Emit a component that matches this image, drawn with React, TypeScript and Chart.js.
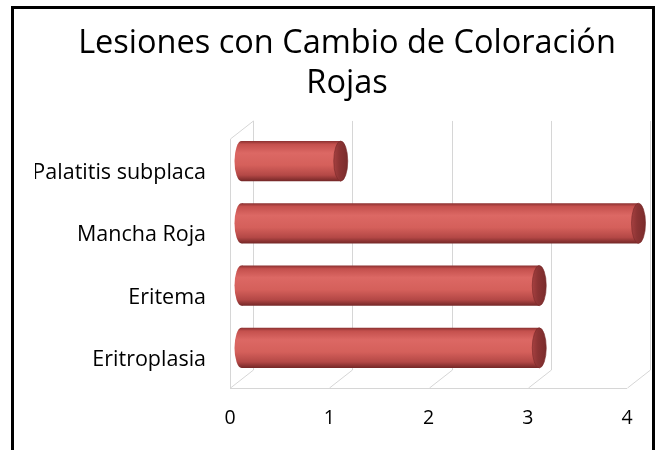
import React, { useEffect, useRef } from "react";
import { Chart, registerables } from "chart.js";

Chart.register(...registerables);

const titleLines = ["Lesiones con Cambio de Coloración", "Rojas"];
const categories = ["Palatitis subplaca", "Mancha Roja", "Eritema", "Eritroplasia"];
const values = [1, 4, 3, 3];
const xTicks = [0, 1, 2, 3, 4];

const DX = 23;
const DY = 18;
const BAR_PCT = 0.645;
const GRID = "#d6d6d6";

function barGradient(ctx: CanvasRenderingContext2D, top: number, bottom: number) {
  const g = ctx.createLinearGradient(0, top, 0, bottom);
  g.addColorStop(0, "#8a3030");
  g.addColorStop(0.08, "#c4504d");
  g.addColorStop(0.3, "#dc6864");
  g.addColorStop(0.6, "#d5605b");
  g.addColorStop(0.85, "#b44846");
  g.addColorStop(1, "#742727");
  return g;
}

function capGradient(ctx: CanvasRenderingContext2D, x: number, rx: number) {
  const g = ctx.createLinearGradient(x - rx, 0, x + rx, 0);
  g.addColorStop(0, "#a54040");
  g.addColorStop(0.4, "#8c3434");
  g.addColorStop(1, "#7a2c2c");
  return g;
}

const depthPlugin = {
  id: "depth3d",
  beforeDatasetsDraw(chart: any) {
    const { ctx, chartArea, scales } = chart;
    const xs = scales.x;
    const L = chartArea.left;
    const T = chartArea.top;
    const B = chartArea.bottom;
    ctx.save();
    ctx.strokeStyle = GRID;
    ctx.lineWidth = 1;
    ctx.beginPath();
    ctx.moveTo(L + 0.5, B);
    ctx.lineTo(L + 0.5, T);
    ctx.lineTo(L + DX + 0.5, T - DY);
    xTicks.forEach((v) => {
      const px = Math.round(xs.getPixelForValue(v)) + 0.5;
      ctx.moveTo(px + DX, T - DY);
      ctx.lineTo(px + DX, B - DY);
      ctx.moveTo(px, B);
      ctx.lineTo(px + DX, B - DY);
    });
    ctx.moveTo(L, B + 0.5);
    ctx.lineTo(xs.getPixelForValue(xTicks[xTicks.length - 1]), B + 0.5);
    ctx.stroke();
    ctx.restore();

    ctx.save();
    ctx.translate(DX / 2, -DY / 2);
    const meta = chart.getDatasetMeta(0);
    meta.data.forEach((el: any) => {
      const p = el.getProps(["x", "y", "base", "height"], true);
      const h = p.height;
      const rx = 7;
      ctx.beginPath();
      ctx.ellipse(p.base, p.y, rx, h / 2, 0, 0, Math.PI * 2);
      ctx.fillStyle = barGradient(ctx, p.y - h / 2, p.y + h / 2);
      ctx.fill();
    });
  },
  afterDatasetsDraw(chart: any) {
    const { ctx } = chart;
    const meta = chart.getDatasetMeta(0);
    meta.data.forEach((el: any) => {
      const p = el.getProps(["x", "y", "base", "height"], true);
      const h = p.height;
      const rx = 7;
      ctx.beginPath();
      ctx.ellipse(p.x, p.y, rx, h / 2, 0, 0, Math.PI * 2);
      ctx.fillStyle = capGradient(ctx, p.x, rx);
      ctx.fill();
      ctx.strokeStyle = "rgba(120,40,40,0.6)";
      ctx.lineWidth = 1;
      ctx.stroke();
    });
    ctx.restore();
  },
};

export default function App() {
  const ref = useRef<HTMLCanvasElement | null>(null);

  useEffect(() => {
    if (!ref.current) return;
    const chart = new Chart(ref.current, {
      type: "bar",
      data: {
        labels: categories,
        datasets: [
          {
            data: values,
            borderWidth: 0,
            categoryPercentage: 1,
            barPercentage: BAR_PCT,
            backgroundColor: (c: any) => {
              const ch = c.chart;
              const ys = ch.scales && ch.scales.y;
              if (!ys || !ch.chartArea) return "#d5605b";
              const center = ys.getPixelForValue(c.dataIndex);
              const band = (ys.bottom - ys.top) / categories.length;
              const h = band * BAR_PCT;
              return barGradient(ch.ctx, center - h / 2, center + h / 2);
            },
          },
        ],
      },
      options: {
        indexAxis: "y",
        animation: false,
        responsive: false,
        maintainAspectRatio: false,
        layout: { padding: { left: 35, right: 0, top: 0, bottom: 0 } },
        plugins: {
          legend: { display: false },
          tooltip: { enabled: false },
          title: {
            display: true,
            text: titleLines,
            color: "#000",
            font: { family: "Open Sans", size: 32.5, weight: "normal", lineHeight: 1.23 },
            padding: { top: 24, bottom: 35 },
          },
        },
        scales: {
          x: {
            min: 0,
            max: 4,
            border: { display: false },
            grid: { display: false, drawTicks: false },
            ticks: {
              stepSize: 1,
              padding: 19,
              color: "#000",
              font: { family: "Open Sans", size: 19.5 },
            },
            afterFit: (s: any) => {
              s.height = 62;
            },
          },
          y: {
            border: { display: false },
            grid: { display: false, drawTicks: false },
            ticks: {
              padding: 24,
              labelOffset: 3,
              color: "#000",
              font: { family: "Open Sans", size: 21.5 },
            },
            afterFit: (s: any) => {
              s.width = 195;
            },
          },
          y2: {
            type: "category",
            labels: categories,
            position: "right",
            display: true,
            border: { display: false },
            grid: { display: false, drawTicks: false },
            ticks: { display: false },
            afterFit: (s: any) => {
              s.width = 32;
            },
          },
        },
      },
      plugins: [depthPlugin],
    });
    return () => chart.destroy();
  }, []);

  return (
    <div style={{ position: "fixed", left: 0, top: 0, width: 659, height: 450, background: "#fff", overflow: "hidden" }}>
      <canvas ref={ref} width={659} height={450} style={{ position: "absolute", left: 0, top: 0 }} />
      <div
        style={{
          position: "absolute",
          left: 11,
          top: 6,
          width: 644,
          height: 470,
          boxSizing: "border-box",
          border: "3px solid #000",
          pointerEvents: "none",
        }}
      />
    </div>
  );
}
